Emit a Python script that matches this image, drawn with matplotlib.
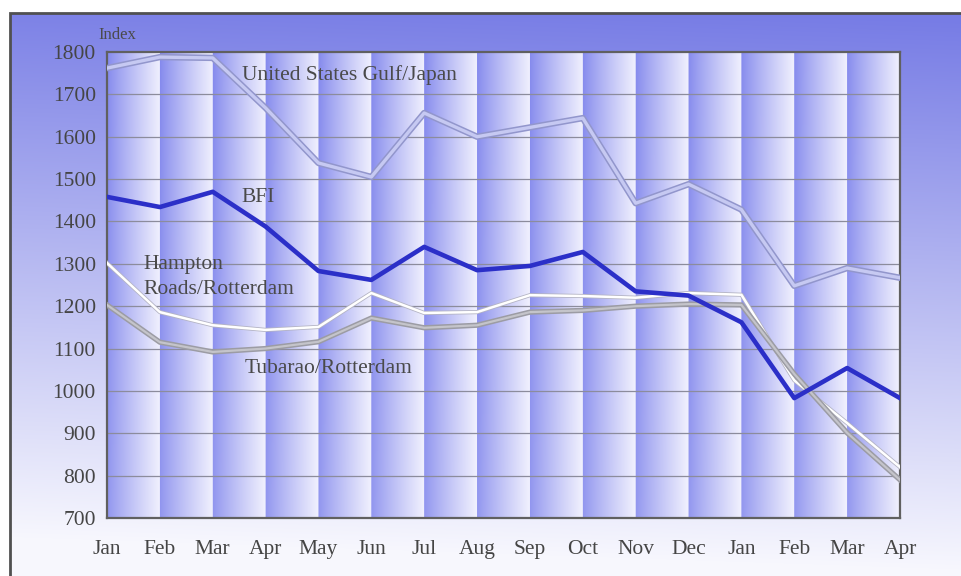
import numpy as np
import matplotlib.pyplot as plt

# Monthly index values
months = ['Jan', 'Feb', 'Mar', 'Apr', 'May', 'Jun', 'Jul', 'Aug', 'Sep', 'Oct',
          'Nov', 'Dec', 'Jan', 'Feb', 'Mar', 'Apr']
us_gulf_japan = [1762, 1788, 1786, 1668, 1538, 1505, 1656, 1600, 1622, 1644,
                 1443, 1488, 1428, 1248, 1290, 1267]
bfi = [1458, 1434, 1470, 1388, 1283, 1262, 1340, 1285, 1295, 1328,
       1235, 1225, 1162, 983, 1054, 983]
hampton_rotterdam = [1302, 1186, 1155, 1144, 1151, 1231, 1184, 1186, 1226, 1224,
                     1220, 1231, 1227, 1025, 924, 820]
tubarao_rotterdam = [1203, 1115, 1092, 1100, 1116, 1172, 1149, 1155, 1186, 1190,
                     1200, 1205, 1203, 1040, 901, 790]
y_ticks = [700, 800, 900, 1000, 1100, 1200, 1300, 1400, 1500, 1600, 1700, 1800]

W, H = 962, 576
fig = plt.figure(figsize=(W / 100, H / 100), dpi=100)

# background gradient (blue at the top fading to white at the bottom)
bg = fig.add_axes([0, 0, 1, 1], zorder=0)
bg.set_axis_off()
yy, xx = np.mgrid[0:1:H * 1j, 0:1:W * 1j]
f = np.clip((yy - 0.04) * 1.05 + (1 - xx) * 0.06, 0, 1)
blue = np.array([0.47, 0.49, 0.90])
img = blue[None, None, :] * (1 - f[..., None]) + np.array([0.97, 0.97, 0.995])[None, None, :] * f[..., None]
img[:13, :, :] = 1.0
img[:, :10, :] = 1.0
bg.imshow(img, extent=(0, W, H, 0), aspect='auto')
bg.set_xlim(0, W)
bg.set_ylim(H, 0)
bg.plot([10, 10, W], [H, 13, 13], color='#505050', lw=2, solid_joinstyle='miter')

ax = fig.add_axes([107 / W, 1 - 518 / H, 793 / W, 466 / H], zorder=1)
ax.patch.set_alpha(0)

# column shading: each month column darker on the left, pale on the right
nx = 15 * 60
xs = np.linspace(0, 15, nx)
frac = xs - np.floor(xs)
frac = np.where(xs >= 15, 1.0, frac)
left_c = np.array([0.52, 0.54, 0.93])
right_c = np.array([0.94, 0.94, 0.995])
g = frac ** 0.9
row = left_c[None, :] * (1 - g[:, None]) + right_c[None, :] * g[:, None]
vy = np.linspace(0, 1, 50)
cols = row[None, :, :] * (1 - 0.10 * vy[:, None, None]) + 0.10 * vy[:, None, None]
ax.imshow(cols, extent=(0, 15, 700, 1800), aspect='auto', origin='upper', zorder=0)

for v in y_ticks[1:-1]:
    ax.axhline(v, color='#8c8c9c', lw=0.9, zorder=1)

x = np.arange(len(months))
ax.plot(x, us_gulf_japan, color='#9296cc', lw=4.6, zorder=3, solid_joinstyle='round')
ax.plot(x, us_gulf_japan, color='#c6c9f2', lw=2.4, zorder=3, solid_joinstyle='round')
ax.plot(x, bfi, color='#2b2fc8', lw=3.3, zorder=5, solid_joinstyle='round')
ax.plot(x, hampton_rotterdam, color='#b4b4c4', lw=3.0, zorder=4, solid_joinstyle='round')
ax.plot(x, hampton_rotterdam, color='white', lw=1.8, zorder=4, solid_joinstyle='round')
ax.plot(x, tubarao_rotterdam, color='#9c9ca4', lw=3.8, zorder=4, solid_joinstyle='round')
ax.plot(x, tubarao_rotterdam, color='#c4c4ca', lw=1.6, zorder=4, solid_joinstyle='round')

ax.set_xlim(0, 15)
ax.set_ylim(700, 1800)
ax.set_xticks(x)
ax.set_xticklabels(months)
ax.set_yticks(y_ticks)
ax.tick_params(length=0, labelsize=15.5, labelcolor='#454545')
ax.tick_params(axis='x', pad=16)
ax.tick_params(axis='y', pad=8)
for lab in ax.get_xticklabels() + ax.get_yticklabels():
    lab.set_family('Liberation Serif')
for s in ax.spines.values():
    s.set_color('#606060')
    s.set_linewidth(1.6)

tk = dict(family='Liberation Serif', color='#4a4a4a', fontsize=15.5, zorder=6)
ax.text(2.55, 1745, 'United States Gulf/Japan', va='center', ha='left', **tk)
ax.text(2.55, 1456, 'BFI', va='center', ha='left', **tk)
ax.text(0.68, 1298, 'Hampton', va='center', ha='left', **tk)
ax.text(0.68, 1240, 'Roads/Rotterdam', va='center', ha='left', **tk)
ax.text(2.6, 1054, 'Tubarao/Rotterdam', va='center', ha='left', **tk)
fig.text(98 / W, 1 - 35 / H, 'Index', family='Liberation Serif', color='#4a4a4a',
         fontsize=12, va='center', ha='left')

fig.savefig('out.png', dpi=100)
